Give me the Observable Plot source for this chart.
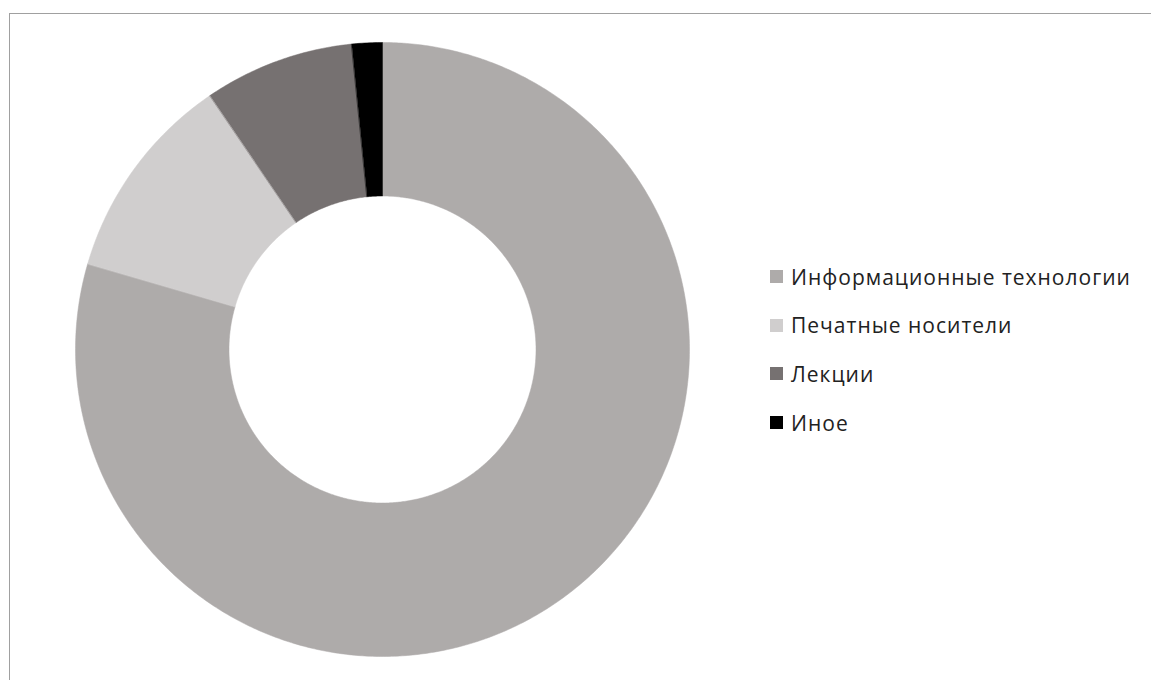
<!DOCTYPE html>
<html>
<head>
<meta charset="utf-8">
<script src="https://cdn.jsdelivr.net/npm/d3@7"></script>
<script src="https://cdn.jsdelivr.net/npm/@observablehq/plot@0.6"></script>
<style>
  html, body { margin: 0; padding: 0; background: #fff; overflow: hidden; }
  #wrap { position: relative; width: 1151px; height: 680px; }
  #frame { position: absolute; left: 9px; top: 13px; width: 1200px; height: 720px;
           border-left: 1px solid #a0a0a0; border-top: 1px solid #a0a0a0; box-sizing: border-box; }
  #chart { position: absolute; left: 0; top: 0; }
  #legend { position: absolute; left: 770px; top: 252.5px; font-family: "Open Sans", sans-serif;
            font-size: 21px; letter-spacing: 1px; color: #222; }
  .item { display: flex; align-items: center; height: 48.6px; white-space: nowrap; }
  .sw { width: 13px; height: 13px; margin-right: 8px; flex: none; }
</style>
</head>
<body>
<div id="wrap">
  <div id="frame"></div>
  <div id="chart"></div>
  <div id="legend"></div>
</div>
<script>
const categories = ["Информационные технологии", "Печатные носители", "Лекции", "Иное"];
const values = [79.5, 11.0, 7.9, 1.6];
const colors = ["#AEABAA", "#D0CECE", "#767171", "#000000"];

const innerRatio = 0.5;
const pie = d3.pie().sort(null).value(d => d.value);
const arcs = pie(categories.map((c, i) => ({category: c, value: values[i]})));

// Build ring-sector polygons in unit coordinates (angle clockwise from north)
const pts = [];
arcs.forEach(a => {
  const n = Math.max(4, Math.ceil((a.endAngle - a.startAngle) / (Math.PI / 360)));
  for (let k = 0; k <= n; k++) {
    const t = a.startAngle + (a.endAngle - a.startAngle) * k / n;
    pts.push({category: a.data.category, x: Math.sin(t), y: Math.cos(t)});
  }
  for (let k = n; k >= 0; k--) {
    const t = a.startAngle + (a.endAngle - a.startAngle) * k / n;
    pts.push({category: a.data.category, x: innerRatio * Math.sin(t), y: innerRatio * Math.cos(t)});
  }
});

const chart = Plot.plot({
  width: 1151,
  height: 680,
  margin: 0,
  style: {background: "transparent"},
  x: {domain: [-1, 1], range: [75, 689], axis: null},
  y: {domain: [-1, 1], range: [656, 42], axis: null},
  color: {domain: categories, range: colors},
  marks: [
    Plot.line(pts, {x: "x", y: "y", z: "category", fill: "category", stroke: "category", strokeWidth: 0.5, curve: "linear-closed"})
  ]
});
document.getElementById("chart").appendChild(chart);

const legend = document.getElementById("legend");
categories.forEach((c, i) => {
  const item = document.createElement("div");
  item.className = "item";
  const sw = document.createElement("span");
  sw.className = "sw";
  sw.style.background = colors[i];
  const tx = document.createElement("span");
  tx.textContent = c;
  item.appendChild(sw);
  item.appendChild(tx);
  legend.appendChild(item);
});
</script>
</body>
</html>
